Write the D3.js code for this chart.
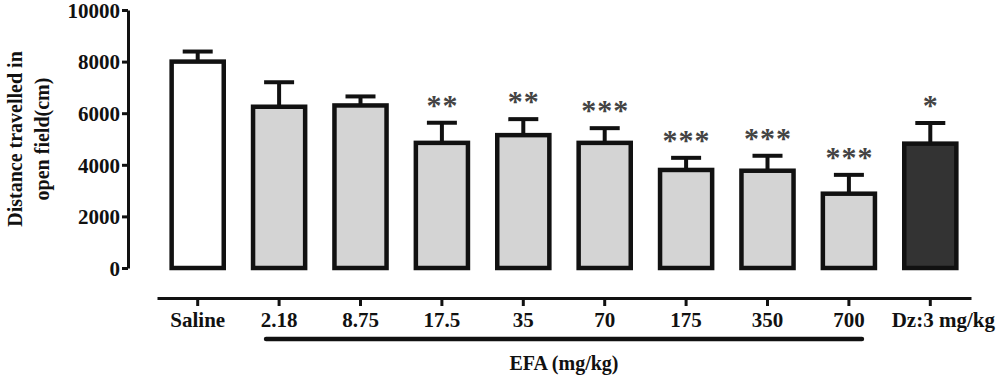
<!DOCTYPE html>
<meta charset="utf-8">
<script src="https://d3js.org/d3.v7.min.js"></script>
<style>
body { margin: 0; background: #fff; }
svg text {
  font-family: "Liberation Serif", "Times New Roman", serif;
  font-weight: bold;
  fill: #111;
}
.axis path, .axis line { stroke: #111; stroke-width: 3; }
.axis text { font-size: 21px; }
.x.axis text { font-size: 21px; }
svg text.star { font-weight: bold; font-size: 30px; fill: #444; letter-spacing: 1px; }
</style>
<body>
<div id="chart"></div>
<script>
// data
var groups = ["Saline", "2.18", "8.75", "17.5", "35", "70", "175", "350", "700", "Dz:3 mg/kg"];
var means  = [8000, 6250, 6300, 4850, 5150, 4850, 3800, 3770, 2880, 4820];
var sems   = [390, 950, 350, 780, 620, 570, 470, 580, 730, 800];
var stars  = ["", "", "", "**", "**", "***", "***", "***", "***", "*"];
var kind   = ["saline", "efa", "efa", "efa", "efa", "efa", "efa", "efa", "efa", "dz"];
var yTicks = [0, 2000, 4000, 6000, 8000, 10000];

var data = groups.map(function(g, i) {
  return {group: g, mean: means[i], sem: sems[i], star: stars[i], kind: kind[i]};
});

var fillOf = {saline: "#ffffff", efa: "#d4d4d4", dz: "#333333"};

var width = 1000, height = 382;

var svg = d3.select("#chart").append("svg")
    .attr("width", width)
    .attr("height", height);

var x = d3.scaleBand()
    .domain(groups)
    .range([157, 971])
    .paddingInner(0.36)
    .paddingOuter(0.18);

var y = d3.scaleLinear()
    .domain([0, 10000])
    .range([268, 10]);

var bw = x.bandwidth();

// y axis
svg.append("g")
    .attr("class", "y axis")
    .attr("transform", "translate(128,0)")
    .call(d3.axisLeft(y).tickValues(yTicks).tickFormat(d3.format("d"))
      .tickSize(6).tickSizeOuter(0).tickPadding(2))
    .attr("font-family", null)
    .selectAll("text").attr("dy", "0.35em");

// y title
var yTitle = svg.append("text")
    .attr("transform", "translate(15,139) rotate(-90)")
    .attr("text-anchor", "middle")
    .style("font-size", "20px");
yTitle.append("tspan").attr("x", 0).attr("dy", "0.35em").text("Distance travelled in");
yTitle.append("tspan").attr("x", 0).attr("dy", "1.35em").text("open field(cm)");

// error bars
var err = svg.append("g").attr("class", "errors")
  .selectAll("g").data(data).enter().append("g");

err.append("line")
    .attr("x1", function(d) { return x(d.group) + bw / 2; })
    .attr("x2", function(d) { return x(d.group) + bw / 2; })
    .attr("y1", function(d) { return y(d.mean); })
    .attr("y2", function(d) { return y(d.mean + d.sem); })
    .attr("stroke", "#111").attr("stroke-width", 4);

err.append("line")
    .attr("x1", function(d) { return x(d.group) + bw / 2 - 15; })
    .attr("x2", function(d) { return x(d.group) + bw / 2 + 15; })
    .attr("y1", function(d) { return y(d.mean + d.sem); })
    .attr("y2", function(d) { return y(d.mean + d.sem); })
    .attr("stroke", "#111").attr("stroke-width", 4);

// bars
svg.append("g").attr("class", "bars")
  .selectAll("rect").data(data).enter().append("rect")
    .attr("x", function(d) { return x(d.group); })
    .attr("y", function(d) { return y(d.mean); })
    .attr("width", bw)
    .attr("height", function(d) { return y(0) - y(d.mean); })
    .attr("fill", function(d) { return fillOf[d.kind]; })
    .attr("stroke", "#111")
    .attr("stroke-width", 4.5);

// significance stars
svg.append("g").attr("class", "stars")
  .selectAll("text").data(data.filter(function(d) { return d.star; })).enter().append("text")
    .attr("class", "star")
    .attr("text-anchor", "middle")
    .attr("x", function(d) { return x(d.group) + bw / 2 + 0.5; })
    .attr("y", function(d) { return y(d.mean + d.sem) - 8; })
    .text(function(d) { return d.star; });

// x axis
var xAxisG = svg.append("g")
    .attr("class", "x axis")
    .attr("transform", "translate(0,298)")
    .call(d3.axisBottom(x).tickSize(8).tickSizeOuter(0).tickPadding(6))
    .attr("font-family", null);
xAxisG.selectAll(".tick text")
    .attr("dx", function(d) { return d === groups[groups.length - 1] ? 13 : 0; });

// EFA bracket
var x0 = x(groups[1]) + bw * 0.25, x1 = x(groups[8]) + bw * 0.75;
svg.append("line")
    .attr("x1", x0).attr("x2", x1)
    .attr("y1", 339).attr("y2", 339)
    .attr("stroke", "#111").attr("stroke-width", 4.5)
    .attr("stroke-linecap", "round");

svg.append("text")
    .attr("x", (x0 + x1) / 2)
    .attr("y", 370)
    .attr("text-anchor", "middle")
    .style("font-size", "20px")
    .text("EFA (mg/kg)");
</script>
</body>
</html>
